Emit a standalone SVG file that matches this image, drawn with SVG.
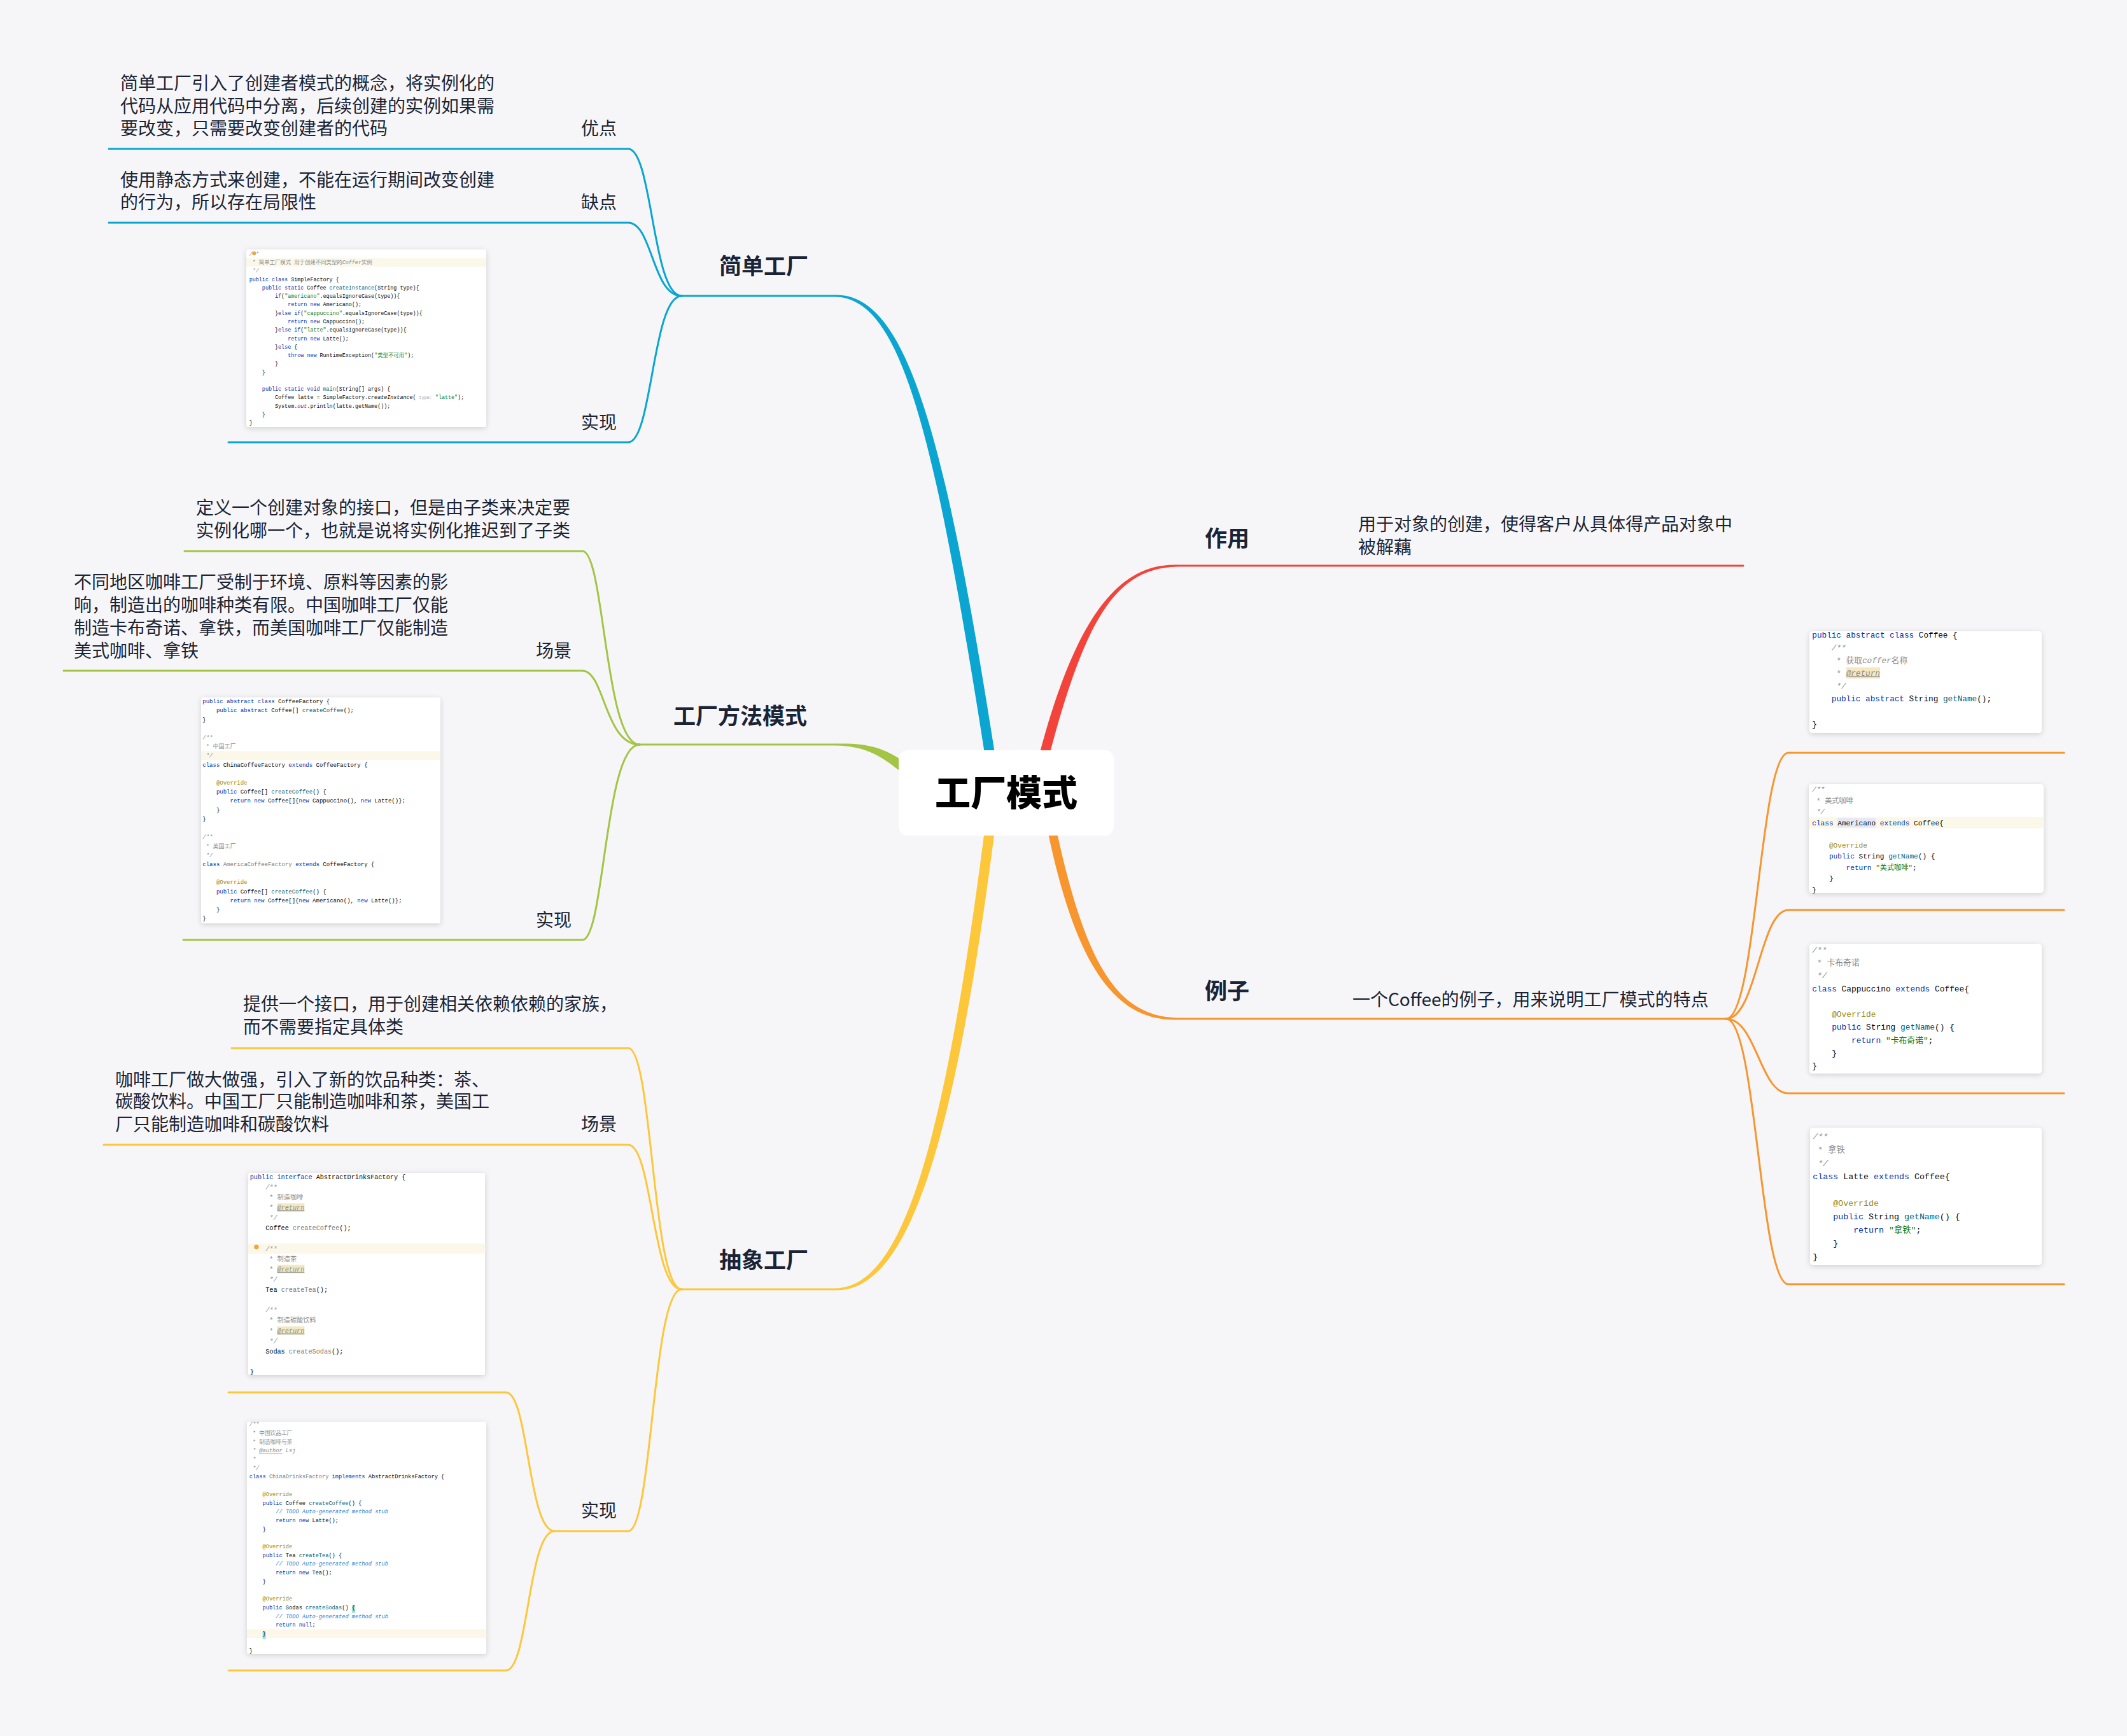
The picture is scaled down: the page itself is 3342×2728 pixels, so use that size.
<svg xmlns="http://www.w3.org/2000/svg" width="3342" height="2728" viewBox="0 0 3342 2728">
<defs>
<style>
.d{font-family:"Noto Sans CJK SC","Noto Sans",sans-serif;font-size:28px;fill:#1c2434}
.t{font-family:"Noto Sans CJK SC","Noto Sans",sans-serif;font-size:35px;font-weight:700;fill:#1b2437}
.ctr{font-family:"Noto Sans CJK SC","Noto Sans",sans-serif;font-size:56px;font-weight:900;fill:#000}
.ln{fill:none;stroke-width:3;stroke-linecap:round}
.b{stroke:#0aa5d0}.bf{fill:#0aa5d0}
.g{stroke:#a3c444}.gf{fill:#a3c444}
.y{stroke:#fdc73b}.yf{fill:#fdc73b}
.r{stroke:#f2443a}.rf{fill:#f2443a}
.o{stroke:#f7952f}.of{fill:#f7952f}
.card{fill:#ffffff;filter:url(#sh)}
.code{font-family:"Liberation Mono","DejaVu Sans Mono","Noto Sans CJK SC",monospace;font-size:10px;fill:#080808}
.k{fill:#0033b3}
.m{fill:#00627a}
.s{fill:#067d17}
.c{fill:#8c8c8c}
.ci{fill:#8c8c8c;font-style:italic}
.a{fill:#9e880d}
.u{fill:#7a7a7a}
.f{fill:#871094;font-style:italic}
.it{font-style:italic}
.td{fill:#2a7dd1;font-style:italic}
.ul{text-decoration:underline;font-style:italic}
.hl{fill:#fbf8ea}
.rt{fill:#f4e8c1}
.tq{fill:#a6e3dc}
.hint{fill:#9a9a9a;font-size:8px}
.bulb{fill:#f2a33a}
</style>
<filter id="sh" x="-10%" y="-10%" width="120%" height="125%">
<feDropShadow dx="0" dy="2" stdDeviation="4" flood-color="#000000" flood-opacity="0.16"/>
</filter>
</defs>
<rect x="0" y="0" width="3342" height="2728" fill="#f6f6f8"/>

<g id="connectors">
<path class="bf" d="M 1564 1190 C 1484 679 1424 462 1313 463.5 L 1313 466.5 C 1416 469 1468 679 1548 1190 Z"/>
<path class="gf" d="M 1434 1208 C 1394 1173 1360 1167.5 1313 1168.5 L 1313 1171.5 C 1360 1172.5 1386 1187 1426 1222 Z"/>
<path class="yf" d="M 1547 1305 C 1482 1811 1416 2022 1313 2024.5 L 1313 2027.5 C 1424 2030 1498 1811 1563 1305 Z"/>
<path class="rf" d="M 1648 1190 C 1708 960 1758 893 1850 890.5 L 1850 887.5 C 1762 885 1692 960 1632 1190 Z"/>
<path class="of" d="M 1645 1300 C 1692 1530 1758 1605 1850 1602.5 L 1850 1599.5 C 1762 1597 1708 1530 1659 1300 Z"/>
<path class="ln b" d="M 1313 465 L 1071 465"/>
<path class="ln b" d="M 171 234 L 987 234 C 1025 234 1025 465 1071 465"/>
<path class="ln b" d="M 171 350 L 987 350 C 1025 350 1025 465 1071 465"/>
<path class="ln b" d="M 359 695 L 987 695 C 1025 695 1025 465 1071 465"/>
<path class="ln g" d="M 1313 1170 L 1005 1170"/>
<path class="ln g" d="M 290 866 L 915 866 C 950 866 950 1170 1005 1170"/>
<path class="ln g" d="M 100 1054 L 915 1054 C 950 1054 950 1170 1005 1170"/>
<path class="ln g" d="M 288 1477 L 915 1477 C 950 1477 950 1170 1005 1170"/>
<path class="ln y" d="M 1313 2026 L 1071 2026"/>
<path class="ln y" d="M 364 1647 L 987 1647 C 1025 1647 1025 2026 1071 2026"/>
<path class="ln y" d="M 163 1799 L 987 1799 C 1025 1799 1025 2026 1071 2026"/>
<path class="ln y" d="M 871 2406 L 987 2406 C 1025 2406 1025 2026 1071 2026"/>
<path class="ln y" d="M 359 2188 L 795 2188 C 830 2188 830 2406 871 2406"/>
<path class="ln y" d="M 359 2625 L 795 2625 C 830 2625 830 2406 871 2406"/>
<path class="ln r" d="M 1850 889 L 2739 889"/>
<path class="ln o" d="M 1850 1601 L 2712 1601"/>
<path class="ln o" d="M 2712 1601 C 2760 1601 2765 1183 2810 1183 L 3243 1183"/>
<path class="ln o" d="M 2712 1601 C 2760 1601 2765 1430 2810 1430 L 3243 1430"/>
<path class="ln o" d="M 2712 1601 C 2760 1601 2765 1718 2810 1718 L 3243 1718"/>
<path class="ln o" d="M 2712 1601 C 2760 1601 2765 2018 2810 2018 L 3243 2018"/>
</g>

<g id="node-center">
<rect x="1412" y="1179" width="338" height="134" rx="14" fill="#ffffff"/>
<text class="ctr" x="1581" y="1266" text-anchor="middle">工厂模式</text>
</g>

<g id="node-simple"><text class="t" x="1130" y="431">简单工厂</text></g>
<g id="node-simple-adv"><text class="d" x="913" y="212">优点</text></g>
<g id="node-simple-adv-desc">
<text class="d" x="189" y="141">简单工厂引入了创建者模式的概念，将实例化的</text>
<text class="d" x="189" y="177">代码从应用代码中分离，后续创建的实例如果需</text>
<text class="d" x="189" y="212">要改变，只需要改变创建者的代码</text>
</g>
<g id="node-simple-dis"><text class="d" x="913" y="328">缺点</text></g>
<g id="node-simple-dis-desc">
<text class="d" x="189" y="293">使用静态方式来创建，不能在运行期间改变创建</text>
<text class="d" x="189" y="328">的行为，所以存在局限性</text>
</g>
<g id="node-simple-impl"><text class="d" x="913" y="674">实现</text></g>
<g id="node-simple-code">
<rect class="card" x="387" y="392" width="377" height="279" rx="4"/>
<g class="code" transform="translate(391.7 399) scale(0.84)">
<rect class="hl" x="-5.6" y="7.9" width="448.6" height="15.8"/>
<text x="0" y="3.4" class="ci">/**</text>
<circle class="bulb" cx="9" cy="-1" r="3.6"/>
<text x="6" y="19.2" class="c">* 简单工厂模式 用于创建不同类型的<tspan class="it">Coffer</tspan>实例</text>
<text x="6" y="35" class="ci">*/</text>
<text x="0" y="50.8"><tspan class="k">public class</tspan> SimpleFactory {</text>
<text x="24" y="66.6"><tspan class="k">public static</tspan> Coffee <tspan class="m">createInstance</tspan>(String type){</text>
<text x="48" y="82.4"><tspan class="k">if</tspan>(<tspan class="s">"americano"</tspan>.equalsIgnoreCase(type)){</text>
<text x="72" y="98.2"><tspan class="k">return new</tspan> Americano();</text>
<text x="48" y="114">}<tspan class="k">else if</tspan>(<tspan class="s">"cappuccino"</tspan>.equalsIgnoreCase(type)){</text>
<text x="72" y="129.8"><tspan class="k">return new</tspan> Cappuccino();</text>
<text x="48" y="145.6">}<tspan class="k">else if</tspan>(<tspan class="s">"latte"</tspan>.equalsIgnoreCase(type)){</text>
<text x="72" y="161.4"><tspan class="k">return new</tspan> Latte();</text>
<text x="48" y="177.2">}<tspan class="k">else</tspan> {</text>
<text x="72" y="193"><tspan class="k">throw new</tspan> RuntimeException(<tspan class="s">"类型不可用"</tspan>);</text>
<text x="48" y="208.8">}</text>
<text x="24" y="224.6">}</text>
<text x="24" y="256.2"><tspan class="k">public static void</tspan> <tspan class="m">main</tspan>(String[] args) {</text>
<text x="48" y="272">Coffee latte = SimpleFactory.<tspan class="it">createInstance</tspan>( <tspan class="hint">type:</tspan> <tspan class="s">"latte"</tspan>);</text>
<text x="48" y="287.8">System.<tspan class="f">out</tspan>.println(latte.getName());</text>
<text x="24" y="303.6">}</text>
<text x="0" y="319.4">}</text>
</g>
</g>

<g id="node-method"><text class="t" x="1058" y="1138">工厂方法模式</text></g>
<g id="node-method-def">
<text class="d" x="308" y="808">定义一个创建对象的接口，但是由子类来决定要</text>
<text class="d" x="308" y="844">实例化哪一个，也就是说将实例化推迟到了子类</text>
</g>
<g id="node-method-scene"><text class="d" x="842" y="1033">场景</text></g>
<g id="node-method-scene-desc">
<text class="d" x="116" y="925">不同地区咖啡工厂受制于环境、原料等因素的影</text>
<text class="d" x="116" y="961">响，制造出的咖啡种类有限。中国咖啡工厂仅能</text>
<text class="d" x="116" y="997">制造卡布奇诺、拿铁，而美国咖啡工厂仅能制造</text>
<text class="d" x="116" y="1033">美式咖啡、拿铁</text>
</g>
<g id="node-method-impl"><text class="d" x="842" y="1456">实现</text></g>
<g id="node-method-code">
<rect class="card" x="316" y="1096" width="376" height="355" rx="4"/>
<g class="code" transform="translate(318.3 1102) scale(0.9)">
<rect class="hl" x="-2.6" y="86.9" width="418" height="15.8"/>
<text x="0" y="3.4"><tspan class="k">public abstract class</tspan> CoffeeFactory {</text>
<text x="24" y="19.2"><tspan class="k">public abstract</tspan> Coffee[] <tspan class="m">createCoffee</tspan>();</text>
<text x="0" y="35">}</text>
<text x="0" y="66.6" class="ci">/**</text>
<text x="6" y="82.4" class="c">* 中国工厂</text>
<text x="6" y="98.2" class="ci">*/</text>
<text x="0" y="114"><tspan class="k">class</tspan> ChinaCoffeeFactory <tspan class="k">extends</tspan> CoffeeFactory {</text>
<text x="24" y="145.6" class="a">@Override</text>
<text x="24" y="161.4"><tspan class="k">public</tspan> Coffee[] <tspan class="m">createCoffee</tspan>() {</text>
<text x="48" y="177.2"><tspan class="k">return new</tspan> Coffee[]{<tspan class="k">new</tspan> Cappuccino(), <tspan class="k">new</tspan> Latte()};</text>
<text x="24" y="193">}</text>
<text x="0" y="208.8">}</text>
<text x="0" y="240.4" class="ci">/**</text>
<text x="6" y="256.2" class="c">* 美国工厂</text>
<text x="6" y="272" class="ci">*/</text>
<text x="0" y="287.8"><tspan class="k">class</tspan> <tspan class="u">AmericaCoffeeFactory</tspan> <tspan class="k">extends</tspan> CoffeeFactory {</text>
<text x="24" y="319.4" class="a">@Override</text>
<text x="24" y="335.2"><tspan class="k">public</tspan> Coffee[] <tspan class="m">createCoffee</tspan>() {</text>
<text x="48" y="351"><tspan class="k">return new</tspan> Coffee[]{<tspan class="k">new</tspan> Americano(), <tspan class="k">new</tspan> Latte()};</text>
<text x="24" y="366.8">}</text>
<text x="0" y="382.6">}</text>
</g>
</g>

<g id="node-abstract"><text class="t" x="1130" y="1993">抽象工厂</text></g>
<g id="node-abstract-def">
<text class="d" x="382" y="1588">提供一个接口，用于创建相关依赖依赖的家族，</text>
<text class="d" x="382" y="1624">而不需要指定具体类</text>
</g>
<g id="node-abstract-scene"><text class="d" x="913" y="1777">场景</text></g>
<g id="node-abstract-scene-desc">
<text class="d" x="181" y="1707">咖啡工厂做大做强，引入了新的饮品种类：茶、</text>
<text class="d" x="181" y="1741">碳酸饮料。中国工厂只能制造咖啡和茶，美国工</text>
<text class="d" x="181" y="1777">厂只能制造咖啡和碳酸饮料</text>
</g>
<g id="node-abstract-impl"><text class="d" x="913" y="2384">实现</text></g>
<g id="node-abstract-code1">
<rect class="card" x="390" y="1843" width="372" height="318" rx="4"/>
<g class="code" transform="translate(392.7 1849.3) scale(1.02)">
<rect class="hl" x="-2.6" y="102.7" width="365" height="15.8"/>
<rect class="rt" x="42" y="40.9" width="42" height="13"/>
<rect class="rt" x="42" y="135.7" width="42" height="13"/>
<rect class="rt" x="42" y="230.5" width="42" height="13"/>
<circle class="bulb" cx="10" cy="108" r="3.6"/>
<text x="0" y="3.4"><tspan class="k">public interface</tspan> AbstractDrinksFactory {</text>
<text x="24" y="19.2" class="ci">/**</text>
<text x="30" y="35" class="c">* 制造咖啡</text>
<text x="30" y="50.8" class="c">* <tspan class="ul">@return</tspan></text>
<text x="30" y="66.6" class="ci">*/</text>
<text x="24" y="82.4">Coffee <tspan class="u">createCoffee</tspan>();</text>
<text x="24" y="114" class="ci">/**</text>
<text x="30" y="129.8" class="c">* 制造茶</text>
<text x="30" y="145.6" class="c">* <tspan class="ul">@return</tspan></text>
<text x="30" y="161.4" class="ci">*/</text>
<text x="24" y="177.2">Tea <tspan class="u">createTea</tspan>();</text>
<text x="24" y="208.8" class="ci">/**</text>
<text x="30" y="224.6" class="c">* 制造碳酸饮料</text>
<text x="30" y="240.4" class="c">* <tspan class="ul">@return</tspan></text>
<text x="30" y="256.2" class="ci">*/</text>
<text x="24" y="272">Sodas <tspan class="u">createSodas</tspan>();</text>
<text x="0" y="303.6">}</text>
</g>
</g>
<g id="node-abstract-code2">
<rect class="card" x="388" y="2234" width="376" height="365" rx="4"/>
<g class="code" transform="translate(391.7 2238.3) scale(0.867)">
<rect class="hl" x="-4.3" y="371.3" width="434" height="15.8"/>
<rect class="tq" x="186" y="328" width="6" height="14"/>
<rect class="tq" x="24" y="375.6" width="6" height="14"/>
<text x="0" y="3.4" class="ci">/**</text>
<text x="6" y="19.2" class="c">* 中国饮品工厂</text>
<text x="6" y="35" class="c">* 制造咖啡与茶</text>
<text x="6" y="50.8" class="ci">* <tspan class="ul">@author</tspan> Lsj</text>
<text x="6" y="66.6" class="ci">*</text>
<text x="6" y="82.4" class="ci">*/</text>
<text x="0" y="98.2"><tspan class="k">class</tspan> <tspan class="u">ChinaDrinksFactory</tspan> <tspan class="k">implements</tspan> AbstractDrinksFactory {</text>
<text x="24" y="129.8" class="a">@Override</text>
<text x="24" y="145.6"><tspan class="k">public</tspan> Coffee <tspan class="m">createCoffee</tspan>() {</text>
<text x="48" y="161.4" class="td">// TODO Auto-generated method stub</text>
<text x="48" y="177.2"><tspan class="k">return new</tspan> Latte();</text>
<text x="24" y="193">}</text>
<text x="24" y="224.6" class="a">@Override</text>
<text x="24" y="240.4"><tspan class="k">public</tspan> Tea <tspan class="m">createTea</tspan>() {</text>
<text x="48" y="256.2" class="td">// TODO Auto-generated method stub</text>
<text x="48" y="272"><tspan class="k">return new</tspan> Tea();</text>
<text x="24" y="287.8">}</text>
<text x="24" y="319.4" class="a">@Override</text>
<text x="24" y="335.2"><tspan class="k">public</tspan> Sodas <tspan class="m">createSodas</tspan>() {</text>
<text x="48" y="351" class="td">// TODO Auto-generated method stub</text>
<text x="48" y="366.8"><tspan class="k">return null</tspan>;</text>
<text x="24" y="382.6">}</text>
<text x="0" y="414.2">}</text>
</g>
</g>

<g id="node-role"><text class="t" x="1893" y="859">作用</text></g>
<g id="node-role-desc">
<text class="d" x="2134" y="834">用于对象的创建，使得客户从具体得产品对象中</text>
<text class="d" x="2134" y="870">被解藕</text>
</g>

<g id="node-example"><text class="t" x="1893" y="1570">例子</text></g>
<g id="node-example-desc"><text class="d" x="2125" y="1581">一个Coffee的例子，用来说明工厂模式的特点</text></g>

<g id="node-example-code1">
<rect class="card" x="2843" y="992" width="365" height="160" rx="5"/>
<g class="code" transform="translate(2847.3 997.3) scale(1.27)">
<rect class="rt" x="42" y="40.4" width="42" height="14"/>
<text x="0" y="3.4"><tspan class="k">public abstract class</tspan> Coffee {</text>
<text x="24" y="19.2" class="ci">/**</text>
<text x="30" y="35" class="c">* 获取<tspan class="it">coffer</tspan>名称</text>
<text x="30" y="50.8" class="c">* <tspan class="ul">@return</tspan></text>
<text x="30" y="66.6" class="ci">*/</text>
<text x="24" y="82.4"><tspan class="k">public abstract</tspan> String <tspan class="m">getName</tspan>();</text>
<text x="0" y="114">}</text>
</g>
</g>
<g id="node-example-code2">
<rect class="card" x="2842" y="1232" width="369" height="171" rx="5"/>
<g class="code" transform="translate(2847.3 1240.3) scale(1.11)">
<rect class="hl" x="-4.8" y="39.5" width="333" height="15.8"/>
<rect x="36" y="40.4" width="54" height="14" fill="#e8e8f5"/>
<text x="0" y="3.4" class="ci">/**</text>
<text x="6" y="19.2" class="c">* 美式咖啡</text>
<text x="6" y="35" class="ci">*/</text>
<text x="0" y="50.8"><tspan class="k">class</tspan> Americano <tspan class="k">extends</tspan> Coffee{</text>
<text x="24" y="82.4" class="a">@Override</text>
<text x="24" y="98.2"><tspan class="k">public</tspan> String <tspan class="m">getName</tspan>() {</text>
<text x="48" y="114"><tspan class="k">return</tspan> <tspan class="s">"美式咖啡"</tspan>;</text>
<text x="24" y="129.8">}</text>
<text x="0" y="145.6">}</text>
</g>
</g>
<g id="node-example-code3">
<rect class="card" x="2843" y="1483" width="365" height="204" rx="5"/>
<g class="code" transform="translate(2847.3 1492.3) scale(1.285)">
<text x="0" y="3.4" class="ci">/**</text>
<text x="6" y="19.2" class="c">* 卡布奇诺</text>
<text x="6" y="35" class="ci">*/</text>
<text x="0" y="50.8"><tspan class="k">class</tspan> Cappuccino <tspan class="k">extends</tspan> Coffee{</text>
<text x="24" y="82.4" class="a">@Override</text>
<text x="24" y="98.2"><tspan class="k">public</tspan> String <tspan class="m">getName</tspan>() {</text>
<text x="48" y="114"><tspan class="k">return</tspan> <tspan class="s">"卡布奇诺"</tspan>;</text>
<text x="24" y="129.8">}</text>
<text x="0" y="145.6">}</text>
</g>
</g>
<g id="node-example-code4">
<rect class="card" x="2844" y="1772" width="364" height="216" rx="5"/>
<g class="code" transform="translate(2848.3 1785.7) scale(1.33)">
<text x="0" y="3.4" class="ci">/**</text>
<text x="6" y="19.2" class="c">* 拿铁</text>
<text x="6" y="35" class="ci">*/</text>
<text x="0" y="50.8"><tspan class="k">class</tspan> Latte <tspan class="k">extends</tspan> Coffee{</text>
<text x="24" y="82.4" class="a">@Override</text>
<text x="24" y="98.2"><tspan class="k">public</tspan> String <tspan class="m">getName</tspan>() {</text>
<text x="48" y="114"><tspan class="k">return</tspan> <tspan class="s">"拿铁"</tspan>;</text>
<text x="24" y="129.8">}</text>
<text x="0" y="145.6">}</text>
</g>
</g>
</svg>
